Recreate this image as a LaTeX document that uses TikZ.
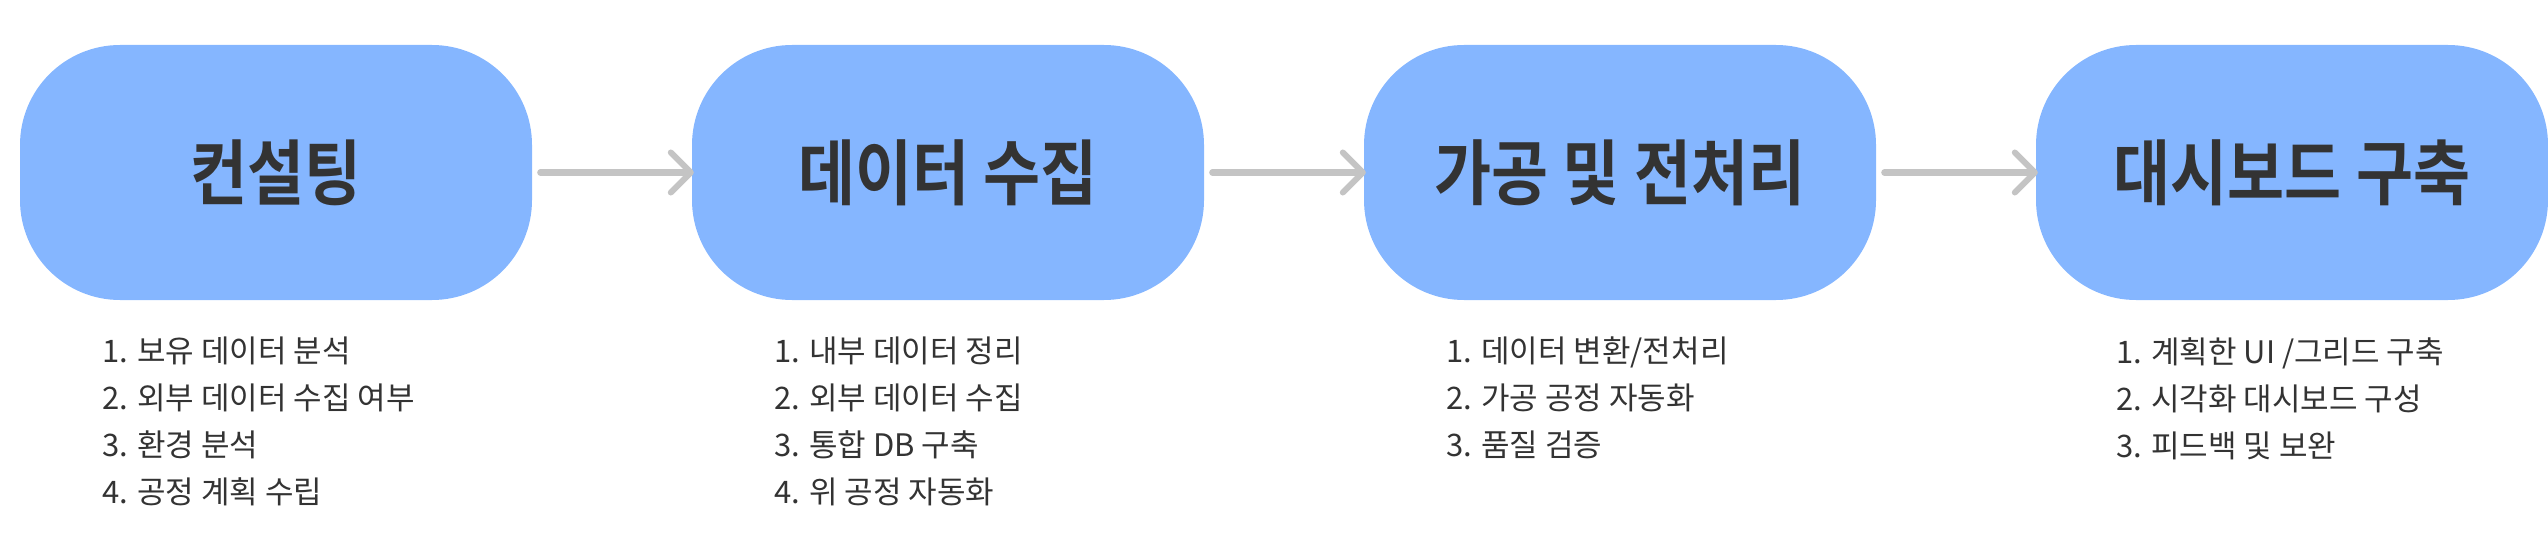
\documentclass[tikz,border=0pt]{standalone}
\usepackage{fontspec}
\usepackage{graphicx}
\usetikzlibrary{arrows.meta}
\setmainfont{Noto Sans CJK KR}
\newfontfamily\titlefont{Noto Sans CJK KR Bold}
\definecolor{boxblue}{HTML}{85B6FF}
\definecolor{arrowgray}{HTML}{C4C4C4}
\definecolor{textgray}{HTML}{333333}
\newcommand{\tall}[1]{\scalebox{1}[1.15]{#1}}

\begin{document}
\begin{tikzpicture}[x=1pt,y=1pt,
    stage/.style={fill=boxblue, rounded corners=100pt, minimum width=512pt,
      minimum height=255pt, inner sep=0pt, text=textgray,
      font=\titlefont\fontsize{62}{66}\selectfont},
    tasks/.style={anchor=north west, align=left, inner sep=0pt, text=textgray,
      font=\fontsize{31}{47}\selectfont},
    flow/.style={draw=arrowgray, line width=6pt, line cap=round,
      shorten <=8pt, shorten >=-2pt,
      -{Straight Barb[length=20pt,width=40pt,round]}}]
  \useasboundingbox (0,0) rectangle (2548,550);
  % stages
  \node[stage] (consult) at ( 276,377.5) {\tall{컨설팅}};
  \node[stage] (collect) at ( 948,377.5) {\tall{데이터 수집}};
  \node[stage] (prep)    at (1620,377.5) {\tall{가공 및 전처리}};
  \node[stage] (board)   at (2292,377.5) {\tall{대시보드 구축}};
  % flow
  \draw[flow] (consult) -- (collect);
  \draw[flow] (collect) -- (prep);
  \draw[flow] (prep) -- (board);
  % task lists
  \node[tasks] (consultlist) at ( 102,213) {1. 보유 데이터 분석\\2. 외부 데이터 수집 여부\\3. 환경 분석\\4. 공정 계획 수립};
  \node[tasks] (collectlist) at ( 774,213) {1. 내부 데이터 정리\\2. 외부 데이터 수집\\3. 통합 DB 구축\\4. 위 공정 자동화};
  \node[tasks] (preplist)    at (1446,213) {1. 데이터 변환/전처리\\2. 가공 공정 자동화\\3. 품질 검증};
  \node[tasks] (boardlist)   at (2116,213) {1. 계획한 UI /그리드 구축\\2. 시각화 대시보드 구성\\3. 피드백 및 보완};
\end{tikzpicture}
\end{document}
